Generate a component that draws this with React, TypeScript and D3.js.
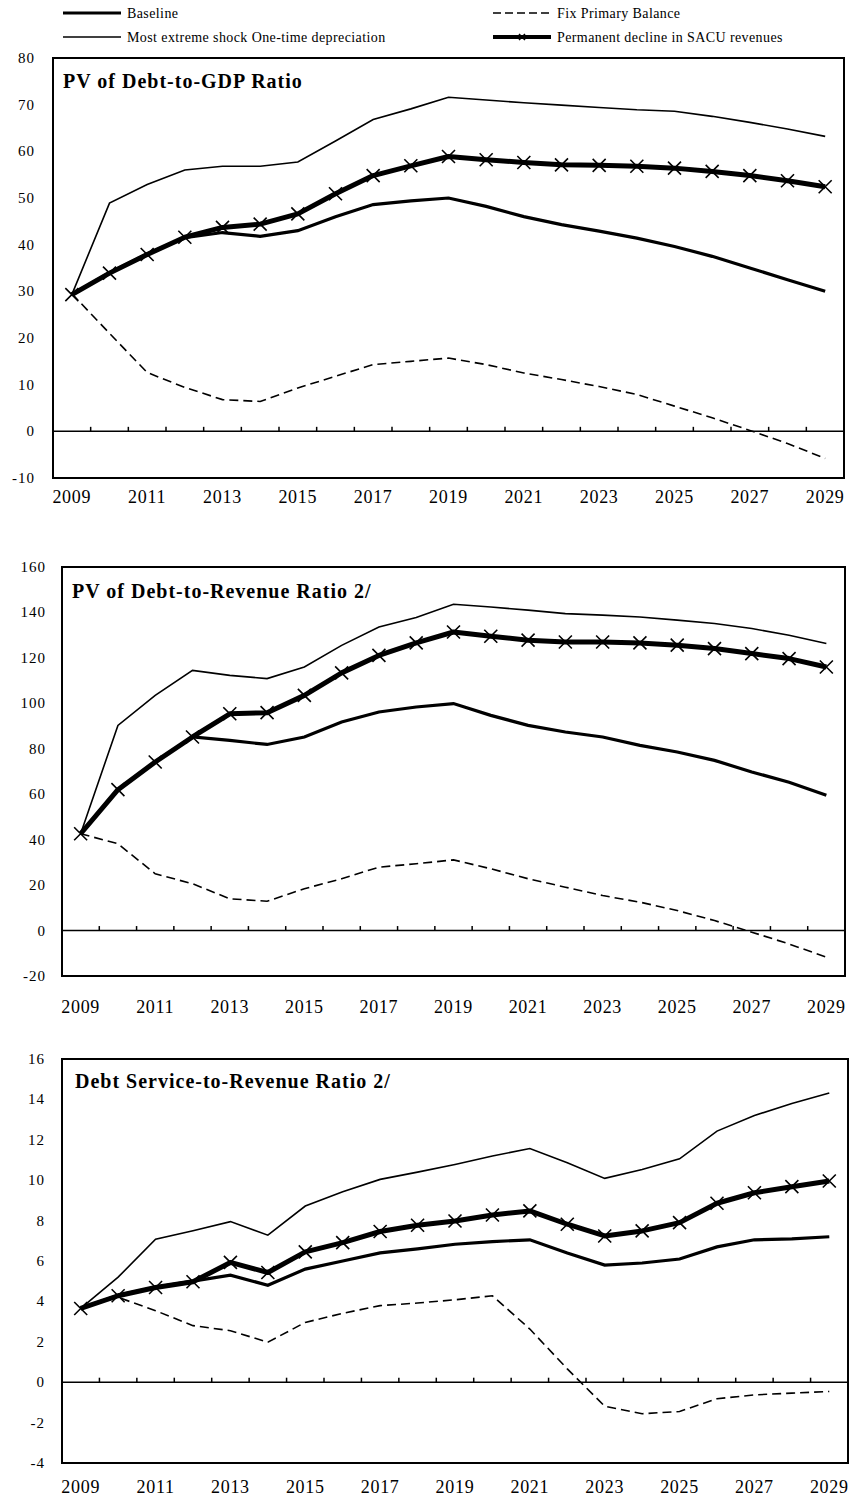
import React from "react";
import * as d3 from "d3";

const years = d3.range(2009, 2030).map(String);
const yearLabels = years.filter((_, i) => i % 2 === 0);

// PV of Debt-to-GDP Ratio
const gdpBaseline = [29.3, 34, 38, 41.5, 42.6, 41.8, 43, 46, 48.6, 49.4, 50, 48.2, 46, 44.3, 42.9, 41.4, 39.6, 37.5, 35, 32.5, 30];
const gdpExtreme = [29.3, 48.9, 52.9, 56, 56.8, 56.8, 57.7, 62.2, 66.8, 69.1, 71.6, 71, 70.4, 69.9, 69.4, 68.9, 68.6, 67.5, 66.2, 64.8, 63.2];
const gdpFixPB = [29.5, 21, 12.6, 9.4, 6.8, 6.4, 9.3, 11.8, 14.3, 15, 15.7, 14.3, 12.5, 11.1, 9.6, 7.9, 5.4, 2.9, 0.2, -2.6, -5.8];
const gdpSacu = [29.3, 33.9, 37.9, 41.6, 43.7, 44.4, 46.6, 50.9, 54.8, 56.9, 58.9, 58.2, 57.6, 57.1, 57, 56.8, 56.4, 55.7, 54.8, 53.7, 52.4];

// PV of Debt-to-Revenue Ratio
const revBaseline = [42.6, 62, 74.2, 85.2, 83.7, 81.9, 85.2, 91.8, 96.2, 98.4, 99.9, 94.7, 90.3, 87.4, 85.2, 81.5, 78.6, 74.9, 69.8, 65.3, 59.5];
const revExtreme = [42.6, 90.3, 103.5, 114.5, 112.3, 110.9, 116, 125.5, 133.6, 137.8, 143.6, 142.4, 141, 139.5, 138.8, 138, 136.6, 135.1, 132.9, 130, 126.3];
const revFixPB = [42.6, 38.2, 25, 20.6, 14, 12.9, 18.4, 22.8, 27.9, 29.4, 31.1, 27.2, 22.8, 19.1, 15.4, 12.5, 8.8, 4.4, -0.7, -5.9, -11.7];
const revSacu = [42.6, 62, 74.2, 85.2, 95.4, 95.9, 103.5, 113.4, 121.1, 126.6, 131.4, 129.5, 127.8, 127, 127, 126.6, 125.6, 124.1, 121.9, 119.7, 116];

// Debt Service-to-Revenue Ratio
const dsBaseline = [3.65, 4.3, 4.7, 5.0, 5.3, 4.8, 5.6, 6.0, 6.4, 6.6, 6.83, 6.96, 7.05, 6.4, 5.8, 5.9, 6.1, 6.7, 7.05, 7.1, 7.2];
const dsExtreme = [3.65, 5.2, 7.08, 7.5, 7.95, 7.28, 8.72, 9.43, 10.04, 10.4, 10.78, 11.2, 11.57, 10.86, 10.09, 10.53, 11.06, 12.43, 13.2, 13.8, 14.32];
const dsFixPB = [3.65, 4.2, 3.54, 2.8, 2.55, 1.98, 2.96, 3.41, 3.79, 3.92, 4.08, 4.28, 2.63, 0.66, -1.19, -1.56, -1.45, -0.82, -0.63, -0.54, -0.46];
const dsSacu = [3.65, 4.28, 4.69, 4.97, 5.93, 5.43, 6.45, 6.91, 7.46, 7.77, 7.98, 8.28, 8.48, 7.82, 7.24, 7.49, 7.9, 8.86, 9.38, 9.68, 9.96];

const legendNames = [
  "Baseline",
  "Fix Primary Balance",
  "Most extreme shock One-time depreciation",
  "Permanent decline in SACU revenues",
];

const panels = [
  {
    title: "PV of Debt-to-GDP  Ratio",
    box: { l: 53, r: 844, t: 58, b: 478 },
    domain: [-10, 80],
    ticks: d3.range(-10, 81, 10),
    tickX: 35,
    titleX: 63,
    titleY: 88,
    yearY: 503,
    baseline: gdpBaseline,
    extreme: gdpExtreme,
    fix: gdpFixPB,
    sacu: gdpSacu,
  },
  {
    title: "PV of Debt-to-Revenue  Ratio 2/",
    box: { l: 62, r: 845, t: 567, b: 976 },
    domain: [-20, 160],
    ticks: d3.range(-20, 161, 20),
    tickX: 46,
    titleX: 72,
    titleY: 598,
    yearY: 1013,
    baseline: revBaseline,
    extreme: revExtreme,
    fix: revFixPB,
    sacu: revSacu,
  },
  {
    title: "Debt Service-to-Revenue Ratio 2/",
    box: { l: 62, r: 848, t: 1059, b: 1463 },
    domain: [-4, 16],
    ticks: d3.range(-4, 17, 2),
    tickX: 45,
    titleX: 75,
    titleY: 1088,
    yearY: 1493,
    baseline: dsBaseline,
    extreme: dsExtreme,
    fix: dsFixPB,
    sacu: dsSacu,
  },
];

const serif = "'Liberation Serif', 'Times New Roman', 'DejaVu Serif', serif";

function XMark({ x, y, s = 6.5, w = 1.6 }) {
  return (
    <path
      d={`M${x - s},${y - s}L${x + s},${y + s}M${x - s},${y + s}L${x + s},${y - s}`}
      stroke="#000"
      strokeWidth={w}
      fill="none"
    />
  );
}

function Panel({ p }) {
  const { box } = p;
  const x = d3.scaleBand().domain(years).range([box.l, box.r]);
  const y = d3.scaleLinear().domain(p.domain).range([box.b, box.t]);
  const cx = (i) => x(years[i]) + x.bandwidth() / 2;
  const line = d3
    .line()
    .x((d, i) => cx(i))
    .y((d) => y(d));

  return (
    <g>
      {p.ticks.map((t) => (
        <text
          key={t}
          x={p.tickX}
          y={y(t) + 5}
          textAnchor="end"
          fontSize={15}
          letterSpacing={1}
          fontFamily={serif}
        >
          {t}
        </text>
      ))}
      {yearLabels.map((yr) => (
        <text
          key={yr}
          x={x(yr) + x.bandwidth() / 2}
          y={p.yearY}
          textAnchor="middle"
          fontSize={18}
          letterSpacing={0.7}
          fontFamily={serif}
        >
          {yr}
        </text>
      ))}
      {/* zero line with category ticks */}
      <line x1={box.l} x2={box.r} y1={y(0)} y2={y(0)} stroke="#000" strokeWidth={1.5} />
      {years.slice(1).map((yr) => (
        <line key={yr} x1={x(yr)} x2={x(yr)} y1={y(0)} y2={y(0) - 4.5} stroke="#000" strokeWidth={1.5} />
      ))}
      <path d={line(p.fix)} fill="none" stroke="#000" strokeWidth={1.6} strokeDasharray="9,5" />
      <path d={line(p.extreme)} fill="none" stroke="#000" strokeWidth={1.6} />
      <path d={line(p.baseline)} fill="none" stroke="#000" strokeWidth={3.2} />
      <path d={line(p.sacu)} fill="none" stroke="#000" strokeWidth={5} strokeLinejoin="round" />
      {p.sacu.map((v, i) => (
        <XMark key={i} x={cx(i)} y={y(v)} />
      ))}
      <rect
        x={box.l}
        y={box.t}
        width={box.r - box.l}
        height={box.b - box.t}
        fill="none"
        stroke="#000"
        strokeWidth={2}
      />
      <text x={p.titleX} y={p.titleY} fontSize={20} letterSpacing={1} fontWeight="bold" fontFamily={serif}>
        {p.title}
      </text>
    </g>
  );
}

function Legend() {
  const rows = [
    { x: 63, y: 13, name: legendNames[0], w: 3.2 },
    { x: 493, y: 13, name: legendNames[1], w: 1.6, dash: "8,4" },
    { x: 63, y: 37, name: legendNames[2], w: 1.6 },
    { x: 493, y: 37, name: legendNames[3], w: 4, mark: true },
  ];
  return (
    <g>
      {rows.map((r) => (
        <g key={r.name}>
          <line
            x1={r.x}
            x2={r.x + 58}
            y1={r.y}
            y2={r.y}
            stroke="#000"
            strokeWidth={r.w}
            strokeDasharray={r.dash}
          />
          {r.mark && <XMark x={r.x + 29} y={r.y} s={3} w={1.5} />}
          <text x={r.x + 64} y={r.y + 5} fontSize={14} letterSpacing={0.4} fontFamily={serif}>
            {r.name}
          </text>
        </g>
      ))}
    </g>
  );
}

export default function App() {
  return (
    <svg
      width={853}
      height={1507}
      style={{ position: "absolute", left: 0, top: 0, background: "#fff" }}
    >
      <rect width={853} height={1507} fill="#fff" />
      <Legend />
      {panels.map((p) => (
        <Panel key={p.title} p={p} />
      ))}
    </svg>
  );
}
